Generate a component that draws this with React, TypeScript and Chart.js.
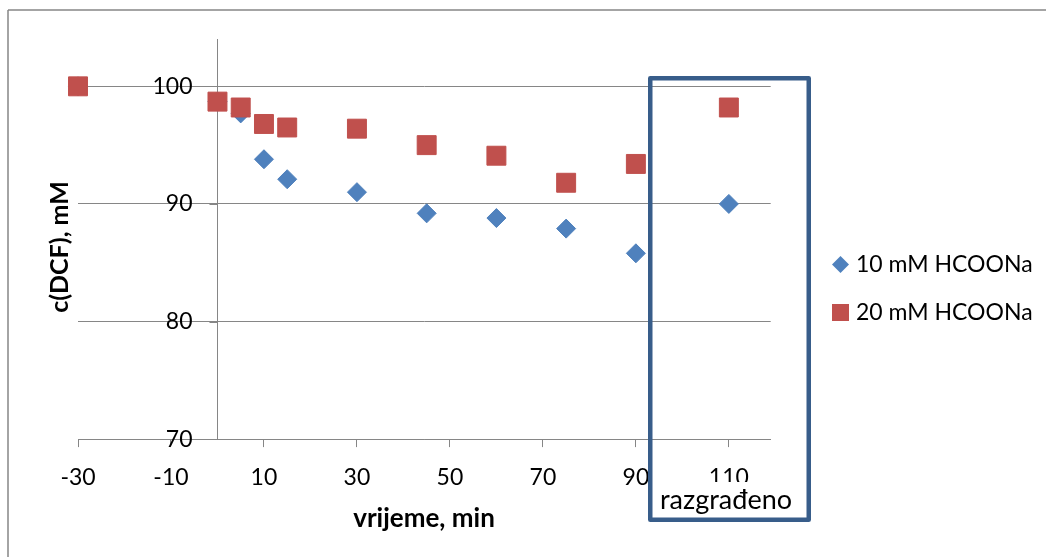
import React, { useEffect, useRef } from "react";
import { Chart, registerables } from "chart.js";

Chart.register(...registerables);

// ---- data ----
const seriesNames = ["10 mM HCOONa", "20 mM HCOONa"];
const times10 = [-30, 0, 5, 10, 15, 30, 45, 60, 75, 90, 110];
const values10 = [100, 98.7, 97.7, 93.8, 92.1, 91.0, 89.2, 88.8, 87.9, 85.8, 90.0];
const times20 = [-30, 0, 5, 10, 15, 30, 45, 60, 75, 90, 110];
const values20 = [100, 98.7, 98.2, 96.8, 96.5, 96.4, 95.0, 94.1, 91.8, 93.4, 98.2];
const xTicks = [-30, -10, 10, 30, 50, 70, 90, 110];
const yTicks = [70, 80, 90, 100];
const xTitle = "vrijeme, min";
const yTitle = "c(DCF), mM";
const boxLabel = "razgrađeno";

const BLUE = "#4F81BD";
const RED = "#C0504D";
const GREY = "#868686";
const BOX = "#385D8A";
const FONT = "Lato";

const decor = {
  id: "decor",
  beforeDraw(chart: any) {
    const ctx = chart.ctx;
    ctx.save();
    ctx.fillStyle = "#ffffff";
    ctx.fillRect(0, 0, chart.width, chart.height);
    ctx.strokeStyle = GREY;
    ctx.lineWidth = 1.5;
    ctx.beginPath();
    ctx.moveTo(8, 10);
    ctx.lineTo(chart.width, 10);
    ctx.moveTo(8, 10);
    ctx.lineTo(8, chart.height);
    ctx.stroke();
    ctx.restore();
  },
  afterDraw(chart: any) {
    const ctx = chart.ctx;
    const xs = chart.scales.x;
    const ys = chart.scales.y;
    const axisX = xs.getPixelForValue(0);
    ctx.save();
    // y tick marks and labels
    ctx.strokeStyle = GREY;
    ctx.lineWidth = 1;
    ctx.fillStyle = "#000";
    ctx.font = `23px ${FONT}`;
    ctx.textAlign = "right";
    ctx.textBaseline = "middle";
    for (const t of ys.ticks) {
      const py = Math.round(ys.getPixelForValue(t.value)) + 0.5;
      ctx.beginPath();
      ctx.moveTo(axisX - 8, py);
      ctx.lineTo(axisX, py);
      ctx.stroke();
      ctx.fillText(String(t.value), axisX - 25, ys.getPixelForValue(t.value));
    }
    // annotation box
    ctx.fillStyle = "#ffffff";
    ctx.fillRect(651, 482, 157, 37);
    ctx.fillStyle = "#000";
    ctx.textAlign = "center";
    ctx.font = `27px ${FONT}`;
    ctx.fillText(boxLabel, 726, 500);
    ctx.strokeStyle = BOX;
    ctx.lineWidth = 4.5;
    ctx.lineJoin = "round";
    ctx.strokeRect(650.25, 78.25, 158.5, 441.5);

    // legend
    ctx.font = `23px ${FONT}`;
    ctx.fillStyle = BLUE;
    ctx.beginPath();
    ctx.moveTo(840.5 - 8.5, 264.5);
    ctx.lineTo(840.5, 264.5 - 8.5);
    ctx.lineTo(840.5 + 8.5, 264.5);
    ctx.lineTo(840.5, 264.5 + 8.5);
    ctx.closePath();
    ctx.fill();
    ctx.fillStyle = RED;
    ctx.fillRect(832, 304, 17, 17);
    ctx.fillStyle = "#000";
    ctx.textAlign = "left";
    ctx.fillText(seriesNames[0], 856, 265);
    ctx.fillText(seriesNames[1], 856, 313);

    // axis titles
    ctx.font = `bold 26px ${FONT}`;
    ctx.textAlign = "center";
    ctx.fillText(xTitle, 424, 519);
    ctx.font = `bold 25px ${FONT}`;
    ctx.translate(60, 247);
    ctx.rotate(-Math.PI / 2);
    ctx.fillText(yTitle, 0, 0);
    ctx.restore();
  },
};

export default function App() {
  const ref = useRef<HTMLCanvasElement | null>(null);
  useEffect(() => {
    if (!ref.current) return;
    const chart = new Chart(ref.current, {
      type: "scatter",
      data: {
        datasets: [
          {
            label: seriesNames[0],
            data: times10.map((t, i) => ({ x: t, y: values10[i] })),
            pointStyle: "rectRot",
            pointRadius: 9.5,
            pointHoverRadius: 9.5,
            backgroundColor: BLUE,
            borderColor: BLUE,
            borderWidth: 1,
            clip: false as any,
            order: 2,
          },
          {
            label: seriesNames[1],
            data: times20.map((t, i) => ({ x: t, y: values20[i] })),
            pointStyle: "rect",
            pointRadius: 13.4,
            pointHoverRadius: 13.4,
            backgroundColor: RED,
            borderColor: RED,
            borderWidth: 1,
            clip: false as any,
            order: 1,
          },
        ],
      },
      options: {
        animation: false,
        responsive: false,
        devicePixelRatio: 1,
        events: [],
        layout: { padding: { left: 78, right: 275.3, top: 39.3, bottom: 49.3 } },
        plugins: { legend: { display: false }, tooltip: { enabled: false } },
        scales: {
          x: {
            type: "linear",
            min: -30,
            max: 119,
            afterBuildTicks: (s: any) => {
              s.ticks = xTicks.map((v) => ({ value: v }));
            },
            ticks: {
              autoSkip: false,
              maxRotation: 0,
              padding: 16.5,
              color: "#000",
              font: { family: FONT, size: 23 },
            },
            grid: { drawOnChartArea: false, drawTicks: true, tickLength: 8, color: GREY },
            border: { display: true, color: GREY, width: 1 },
          },
          y: {
            type: "linear",
            min: 70,
            max: 104,
            position: { x: 0 } as any,
            afterBuildTicks: (s: any) => {
              s.ticks = yTicks.map((v) => ({ value: v }));
            },
            ticks: { display: false },
            grid: { drawTicks: false, color: GREY },
            border: { display: true, color: GREY, width: 1 },
          },
        },
      },
      plugins: [decor],
    });
    return () => chart.destroy();
  }, []);
  return (
    <div style={{ position: "absolute", left: 0, top: 0, width: 1046, height: 557, background: "#fff" }}>
      <canvas ref={ref} width={1046} height={557} style={{ display: "block" }} />
    </div>
  );
}
